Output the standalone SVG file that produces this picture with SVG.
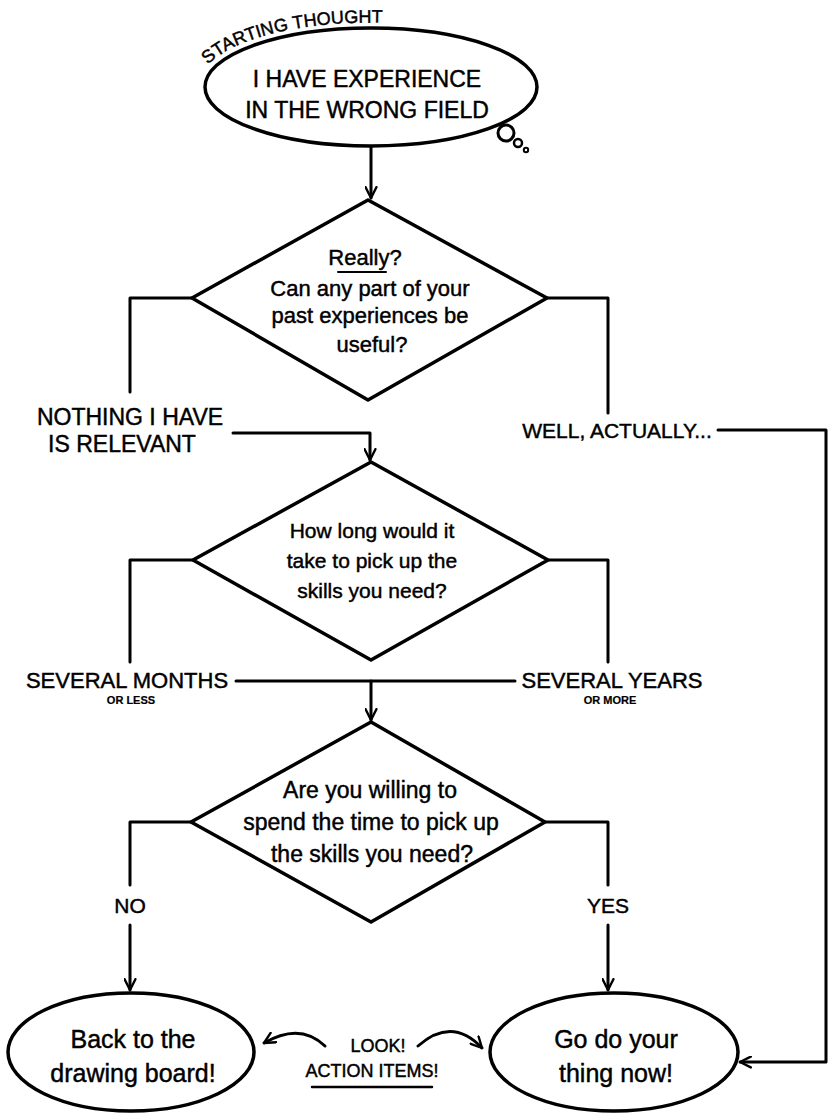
<svg xmlns="http://www.w3.org/2000/svg" width="829" height="1115" viewBox="0 0 829 1115">
<style>
.bg{fill:#fff}
.shape{fill:#fff;stroke:#000;stroke-width:3.5;stroke-linejoin:round}
.ln{fill:none;stroke:#000;stroke-width:3;stroke-linecap:round;stroke-linejoin:round}
.t{font-family:"Liberation Sans",Arial,sans-serif;fill:#000;stroke:#000;stroke-width:0.45;text-anchor:middle}
.small{font-size:11px;font-weight:bold;stroke-width:0.2}
</style>
<defs>
<marker id="arr" viewBox="0 0 12 12" refX="11" refY="6" markerWidth="13" markerHeight="13" markerUnits="userSpaceOnUse" orient="auto">
<path d="M1,1 L11,6 L1,11" fill="none" stroke="#000" stroke-width="2.2" stroke-linecap="round" stroke-linejoin="round"/>
</marker>
<path id="arc" d="M206,67 A170,63 0 0,1 404,24"/>
</defs>
<rect class="bg" x="0" y="0" width="829" height="1115"/>

<g id="connectors">
<path class="ln" d="M371,147 L371,198" marker-end="url(#arr)"/>
<path class="ln" d="M192,298 L130,298 L130,392"/>
<path class="ln" d="M233,433 L370,433 L370,460" marker-end="url(#arr)"/>
<path class="ln" d="M547,298 L608,298 L608,413"/>
<path class="ln" d="M718,430 L826,430 L826,1062 L740,1062" marker-end="url(#arr)"/>
<path class="ln" d="M193,560 L130,560 L130,662"/>
<path class="ln" d="M548,560 L608,560 L608,662"/>
<path class="ln" d="M236,681 L515,681"/>
<path class="ln" d="M371,681 L371,720" marker-end="url(#arr)"/>
<path class="ln" d="M191,822 L130,822 L130,885"/>
<path class="ln" d="M130,925 L130,990" marker-end="url(#arr)"/>
<path class="ln" d="M545,822 L608,822 L608,885"/>
<path class="ln" d="M608,925 L608,990" marker-end="url(#arr)"/>
<path class="ln" d="M325,1046 Q300,1022 264,1043" marker-end="url(#arr)"/>
<path class="ln" d="M418,1046 Q452,1016 482,1048" marker-end="url(#arr)"/>
</g>

<g id="labels">
<text class="t" x="130" y="425" style="font-size:23px">NOTHING I HAVE</text>
<text class="t" x="122" y="452" style="font-size:23px">IS RELEVANT</text>
<text class="t" x="617" y="438" style="font-size:21px">WELL, ACTUALLY...</text>
<text class="t" x="127" y="688" style="font-size:22px">SEVERAL MONTHS</text>
<text class="t small" x="131" y="704">OR LESS</text>
<text class="t" x="612" y="688" style="font-size:22px">SEVERAL YEARS</text>
<text class="t small" x="610" y="704">OR MORE</text>
<text class="t" x="130" y="913" style="font-size:21px">NO</text>
<text class="t" x="608" y="913" style="font-size:21px">YES</text>
<text class="t" x="378" y="1052" style="font-size:18px">LOOK!</text>
<text class="t" x="372" y="1077" style="font-size:18px">ACTION ITEMS!</text>
<path class="ln" d="M312,1087 L432,1087" style="stroke-width:2.5"/>
</g>

<g id="start">
<ellipse class="shape" cx="371" cy="87" rx="166" ry="59"/>
<circle class="shape" cx="506" cy="133" r="8" style="stroke-width:3"/>
<circle cx="518" cy="143" r="4" fill="#fff" stroke="#000" stroke-width="2.5"/>
<circle cx="526" cy="150" r="2.2" fill="#fff" stroke="#000" stroke-width="2"/>
<text class="t" style="font-size:18px;text-anchor:start"><textPath href="#arc" startOffset="3">STARTING THOUGHT</textPath></text>
<text class="t" x="367" y="87" style="font-size:23px">I HAVE EXPERIENCE</text>
<text class="t" x="367" y="118" style="font-size:23px">IN THE WRONG FIELD</text>
</g>

<g id="d1">
<path class="shape" d="M368,200 L547,298 L368,400 L192,298 Z"/>
<text class="t" x="365" y="265" style="font-size:22px">Really?</text>
<path class="ln" d="M338,272 L386,272" style="stroke-width:2"/>
<text class="t" x="370" y="296" style="font-size:22px">Can any part of your</text>
<text class="t" x="370" y="323" style="font-size:22px">past experiences be</text>
<text class="t" x="372" y="352" style="font-size:22px">useful?</text>
</g>

<g id="d2">
<path class="shape" d="M371,462 L548,560 L371,660 L193,560 Z"/>
<text class="t" x="372" y="538" style="font-size:21px">How long would it</text>
<text class="t" x="372" y="568" style="font-size:21px">take to pick up the</text>
<text class="t" x="372" y="598" style="font-size:21px">skills you need?</text>
</g>

<g id="d3">
<path class="shape" d="M371,722 L545,822 L371,922 L191,822 Z"/>
<text class="t" x="370" y="798" style="font-size:23px">Are you willing to</text>
<text class="t" x="371" y="830" style="font-size:23px">spend the time to pick up</text>
<text class="t" x="372" y="862" style="font-size:23px">the skills you need?</text>
</g>

<g id="back">
<ellipse class="shape" cx="131" cy="1052" rx="123" ry="59"/>
<text class="t" x="133" y="1048" style="font-size:25px">Back to the</text>
<text class="t" x="133" y="1082" style="font-size:25px">drawing board!</text>
</g>

<g id="go">
<ellipse class="shape" cx="614" cy="1052" rx="124" ry="59"/>
<text class="t" x="616" y="1048" style="font-size:25px">Go do your</text>
<text class="t" x="616" y="1082" style="font-size:25px">thing now!</text>
</g>
</svg>
